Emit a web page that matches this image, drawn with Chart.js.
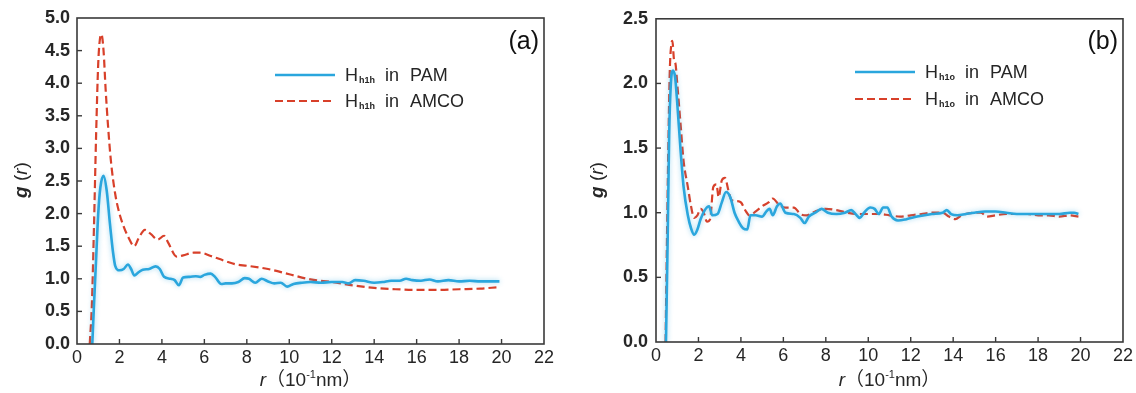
<!DOCTYPE html>
<html><head><meta charset="utf-8">
<script src="https://cdn.jsdelivr.net/npm/chart.js@4/dist/chart.umd.min.js"></script>
<style>
html,body{margin:0;padding:0;background:#fff;}
#wrap{position:relative;width:1136px;height:393px;overflow:hidden;}
.pane{position:absolute;top:0;height:393px;}
</style></head><body>
<div id="wrap">
<div class="pane" style="left:0;width:568px"><canvas id="ca"></canvas></div>
<div class="pane" style="left:568px;width:568px"><canvas id="cb"></canvas></div>
</div>
<script>
// ---------- data: panel (a) ----------
const rA_pam = [0.72,0.8,0.9,1.0,1.1,1.25,1.4,1.55,1.7,1.8,2.0,2.2,2.4,2.55,2.7,2.9,3.1,3.4,3.7,3.9,4.1,4.4,4.6,4.8,5.0,5.3,5.6,5.8,6.0,6.3,6.5,6.8,7.0,7.3,7.6,7.9,8.1,8.4,8.7,9.0,9.3,9.6,9.9,10.2,10.6,11.0,11.5,12.0,12.5,12.8,13.1,13.5,14.0,14.4,14.8,15.2,15.5,15.8,16.2,16.6,17.0,17.5,18.0,18.5,19.0,19.5,19.9];
const gA_pam = [0,0.6,1.3,2.0,2.4,2.58,2.35,1.85,1.4,1.2,1.13,1.15,1.22,1.15,1.05,1.1,1.14,1.15,1.19,1.15,1.03,1.0,0.98,0.9,1.02,1.03,1.04,1.03,1.06,1.08,1.03,0.92,0.93,0.93,0.95,1.01,1.0,0.94,1.0,0.96,0.93,0.94,0.88,0.92,0.94,0.95,0.94,0.95,0.95,0.93,0.98,0.97,0.94,0.95,0.97,0.97,1.0,0.98,0.97,0.99,0.96,0.98,0.96,0.97,0.96,0.96,0.96];
const rA_amco = [0.6,0.7,0.8,0.9,1.0,1.1,1.15,1.25,1.35,1.45,1.6,1.8,2.0,2.2,2.4,2.7,2.9,3.2,3.5,3.8,4.1,4.3,4.7,5.0,5.5,5.8,6.3,7.0,7.5,8.0,9.0,10.0,11.0,12.0,13.0,14.0,15.0,16.0,17.0,18.0,19.0,19.8];
const gA_amco = [0,0.6,1.8,3.2,4.3,4.72,4.75,4.5,3.9,3.4,2.8,2.3,2.0,1.8,1.65,1.5,1.62,1.75,1.68,1.6,1.66,1.55,1.34,1.36,1.4,1.4,1.35,1.27,1.22,1.2,1.15,1.07,0.99,0.95,0.9,0.86,0.84,0.83,0.83,0.84,0.85,0.87];
// ---------- data: panel (b) ----------
const rB_pam = [0.47,0.55,0.62,0.7,0.8,0.9,1.0,1.15,1.3,1.5,1.65,1.8,1.95,2.1,2.3,2.5,2.65,2.9,3.1,3.3,3.5,3.7,3.9,4.1,4.3,4.45,4.7,5.0,5.2,5.35,5.5,5.7,5.85,6.1,6.5,6.8,7.0,7.2,7.5,7.8,8.1,8.5,8.9,9.2,9.4,9.6,9.8,10.1,10.3,10.5,10.7,10.9,11.1,11.4,11.8,12.3,13.0,13.5,13.7,13.9,14.2,14.6,15.0,15.5,16.0,16.5,17.0,17.5,18.0,18.5,19.0,19.5,19.7,19.9];
const gB_pam = [0,0.8,1.6,2.0,2.1,2.05,1.85,1.5,1.2,0.98,0.88,0.83,0.87,0.95,1.02,1.05,0.98,0.99,1.08,1.16,1.12,1.0,0.93,0.88,0.87,0.98,0.98,0.97,1.01,1.03,0.98,1.05,1.07,1.0,0.99,0.96,0.92,0.97,1.0,1.03,1.0,0.99,1.0,1.02,0.99,0.96,1.0,1.04,1.03,0.99,1.04,1.04,0.97,0.94,0.95,0.97,0.99,1.0,1.02,0.99,0.98,0.99,1.0,1.01,1.01,1.0,0.99,0.99,0.99,0.99,0.99,1.0,1.0,0.99];
const rB_amco = [0.45,0.5,0.58,0.65,0.72,0.77,0.85,0.92,1.0,1.15,1.3,1.5,1.65,1.8,1.95,2.1,2.25,2.4,2.55,2.7,2.85,2.95,3.1,3.25,3.4,3.55,3.8,4.0,4.2,4.4,4.7,5.0,5.3,5.5,5.8,6.1,6.5,6.8,7.1,7.5,8.0,8.5,9.0,9.5,10.0,10.5,11.0,11.5,12.0,12.5,13.0,13.5,13.8,14.1,14.4,15.0,15.3,15.6,16.0,16.5,17.0,17.5,18.0,18.5,19.0,19.5,19.9];
const gB_amco = [0,0.6,1.5,2.1,2.3,2.33,2.18,2.15,2.0,1.7,1.4,1.2,1.05,0.96,0.98,1.03,1.0,0.93,0.95,1.2,1.22,1.12,1.25,1.27,1.18,1.1,1.09,1.08,1.02,0.98,1.01,1.05,1.08,1.11,1.06,1.04,1.04,0.99,0.98,1.01,1.03,1.02,1.0,0.99,0.99,0.99,0.98,0.97,0.98,0.99,1.0,1.0,0.97,0.95,0.98,1.0,1.0,0.97,0.98,0.99,0.99,0.99,0.98,0.98,0.97,0.98,0.97];
// ---------- labels ----------
const panelLabels = ['(a)','(b)'];
const legendSubs = ['h1h','h1o'];
const seriesNames = ['PAM','AMCO'];
const xTitle = {italic:'r', main:'（10', sup:'-1', tail:'nm）'};
const yTitle = {italic1:'g', mid:' (', italic2:'r', end:')'};

const BLUE = '#2aa6dd', RED = '#d8402a', AXIS = '#3a3a3a', TXT = '#262626';
const FONT = '"Liberation Sans", Arial, "Noto Sans CJK SC", sans-serif';

const pts = (rs, gs) => rs.map((r, i) => ({x: r, y: gs[i]}));

const glow = {
  id: 'glow',
  beforeDatasetDraw(chart, args) {
    const ctx = chart.ctx; ctx.save();
    if (args.index === 0) { ctx.shadowColor = 'rgba(42,166,221,0.45)'; ctx.shadowBlur = 5; }
  },
  afterDatasetDraw(chart) { chart.ctx.restore(); }
};

const decor = {
  id: 'decor',
  afterDraw(chart, args, o) {
    const ctx = chart.ctx, a = chart.chartArea, xs = chart.scales.x, ys = chart.scales.y;
    ctx.save();
    // frame
    ctx.strokeStyle = AXIS; ctx.lineWidth = 1.6;
    ctx.strokeRect(a.left, a.top, a.right - a.left, a.bottom - a.top);
    // inward ticks
    ctx.lineWidth = 1.4;
    xs.ticks.forEach(t => {
      if (t.value <= xs.min || t.value >= xs.max) return;
      const p = xs.getPixelForValue(t.value);
      ctx.beginPath(); ctx.moveTo(p, a.bottom); ctx.lineTo(p, a.bottom - 5); ctx.stroke();
    });
    ys.ticks.forEach(t => {
      if (t.value <= ys.min || t.value >= ys.max) return;
      const p = ys.getPixelForValue(t.value);
      ctx.beginPath(); ctx.moveTo(a.left, p); ctx.lineTo(a.left + 5, p); ctx.stroke();
    });
    // legend
    chart.data.datasets.forEach((ds, i) => {
      const y = o.legY[i];
      ctx.strokeStyle = ds.borderColor; ctx.lineWidth = ds.borderWidth;
      ctx.setLineDash(ds.borderDash || []);
      ctx.beginPath(); ctx.moveTo(o.legX0, y); ctx.lineTo(o.legX1, y); ctx.stroke();
      ctx.setLineDash([]);
      ctx.fillStyle = TXT; ctx.textBaseline = 'middle'; ctx.textAlign = 'left';
      const tx = o.legX1 + 10;
      ctx.font = '18px ' + FONT; ctx.fillText('H', tx, y + 1);
      ctx.font = 'bold 9px ' + FONT; ctx.fillText(o.sub, tx + 14, y + 6);
      ctx.font = '18px ' + FONT; ctx.fillText('in', tx + 40, y + 1);
      ctx.fillText(seriesNames[i], tx + 65, y + 1);
    });
    // panel label
    ctx.font = '25px ' + FONT; ctx.textAlign = 'right'; ctx.textBaseline = 'middle';
    ctx.fillStyle = '#111'; ctx.fillText(o.panel, a.right - 5, 42);
    // x title
    ctx.textBaseline = 'middle'; ctx.textAlign = 'left';
    ctx.fillStyle = TXT;
    const parts = [
      ['italic 19px ' + FONT, xTitle.italic, 0],
      ['19px ' + FONT, xTitle.main, 0],
      ['11px ' + FONT, xTitle.sup, -6],
      ['19px ' + FONT, xTitle.tail, 0]
    ];
    let w = 0;
    parts.forEach(p => { ctx.font = p[0]; w += ctx.measureText(p[1]).width; });
    let x = (a.left + a.right) / 2 - w / 2;
    parts.forEach(p => { ctx.font = p[0]; ctx.fillText(p[1], x, 381 + p[2]); x += ctx.measureText(p[1]).width; });
    // y title
    ctx.save();
    ctx.translate(o.yTitleX, 180); ctx.rotate(-Math.PI / 2);
    const yp = [['italic bold 19px ' + FONT, yTitle.italic1], ['19px ' + FONT, yTitle.mid], ['italic 19px ' + FONT, yTitle.italic2], ['19px ' + FONT, yTitle.end]];
    w = 0; yp.forEach(p => { ctx.font = p[0]; w += ctx.measureText(p[1]).width; });
    x = -w / 2;
    yp.forEach(p => { ctx.font = p[0]; ctx.fillText(p[1], x, 0); x += ctx.measureText(p[1]).width; });
    ctx.restore();
    ctx.restore();
  }
};

function makeChart(id, cfg) {
  return new Chart(document.getElementById(id), {
    type: 'line',
    data: {
      datasets: [
        {label: 'PAM', data: cfg.pam, borderColor: BLUE, borderWidth: 2.6, pointRadius: 0, cubicInterpolationMode: 'monotone', fill: false},
        {label: 'AMCO', data: cfg.amco, borderColor: RED, borderWidth: 2.2, borderDash: [8, 4], pointRadius: 0, cubicInterpolationMode: 'monotone', fill: false}
      ]
    },
    options: {
      responsive: false, animation: false, parsing: true,
      layout: {padding: {left: 0, right: cfg.padR, top: cfg.padT, bottom: 0}},
      plugins: {legend: {display: false}, tooltip: {enabled: false}, decor: cfg.decor},
      scales: {
        x: {type: 'linear', min: 0, max: 22,
            ticks: {stepSize: 2, color: TXT, font: {family: FONT, size: 18}, padding: 3, maxRotation: 0},
            grid: {drawOnChartArea: false, drawTicks: false}, border: {display: false},
            afterFit: s => { s.height = cfg.xH; }},
        y: {min: 0, max: cfg.ymax,
            ticks: {stepSize: 0.5, color: TXT, font: {family: FONT, size: 18, weight: 'bold'}, padding: cfg.yPad, callback: v => v.toFixed(1)},
            grid: {drawOnChartArea: false, drawTicks: false}, border: {display: false},
            afterFit: s => { s.width = cfg.yW; }}
      }
    },
    plugins: [glow, decor]
  });
}

function sizeCanvas(id) { const c = document.getElementById(id); c.width = 568; c.height = 393; c.style.width = '568px'; c.style.height = '393px'; }
sizeCanvas('ca'); sizeCanvas('cb');

makeChart('ca', {
  pam: pts(rA_pam, gA_pam), amco: pts(rA_amco, gA_amco), ymax: 5,
  padR: 24, padT: 18, xH: 49, yW: 77, yPad: 7,
  decor: {legX0: 275, legX1: 335, legY: [75, 101], sub: legendSubs[0], panel: panelLabels[0], yTitleX: 22}
});
makeChart('cb', {
  pam: pts(rB_pam, gB_pam), amco: pts(rB_amco, gB_amco), ymax: 2.5,
  padR: 13, padT: 15, xH: 51, yW: 88, yPad: 8,
  decor: {legX0: 855 - 568, legX1: 915 - 568, legY: [72, 99], sub: legendSubs[1], panel: panelLabels[1], yTitleX: 30}
});
</script>
</body></html>
